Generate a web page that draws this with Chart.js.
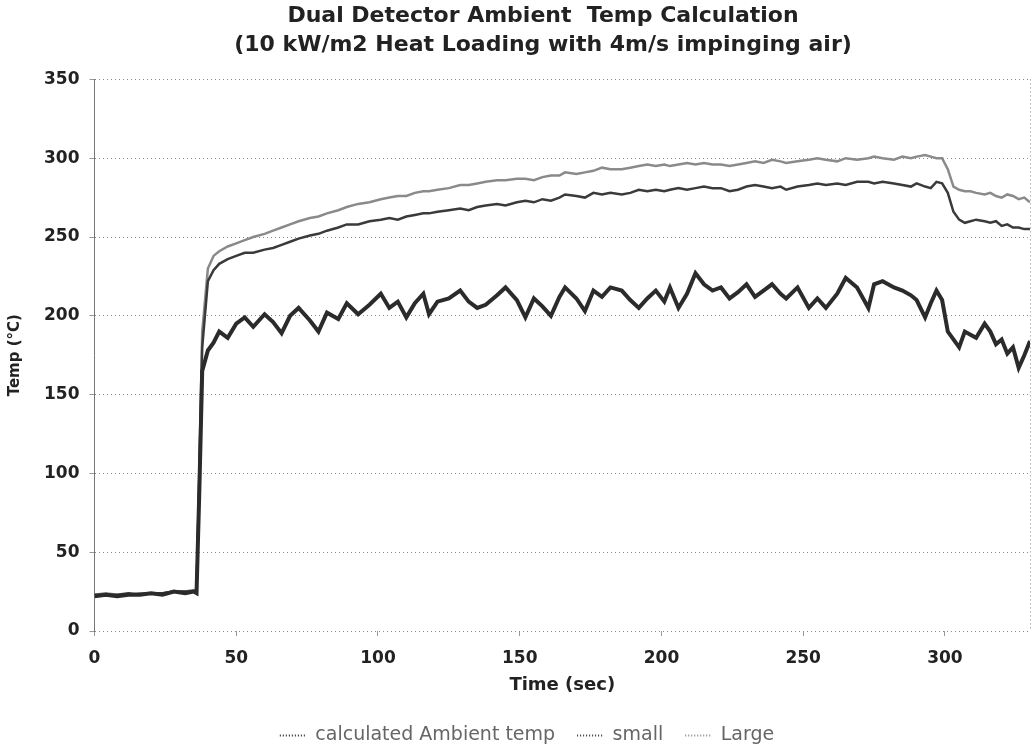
<!DOCTYPE html>
<html>
<head>
<meta charset="utf-8">
<script src="https://cdn.jsdelivr.net/npm/chart.js@4/dist/chart.umd.min.js"></script>
<style>
  html, body { margin: 0; padding: 0; background: #fff; }
  #wrap { width: 1034px; height: 748px; }
</style>
</head>
<body>
<div id="wrap"><canvas id="tempChart"></canvas></div>
<script>
// time in seconds
const times = [0, 4, 8, 12, 16, 20, 24, 28, 32, 35, 36, 37, 38, 40, 42, 44, 47, 50, 53, 56,
  60, 63, 66, 69, 72, 76, 79, 82, 86, 89, 93, 97, 101, 104, 107, 110, 113, 116, 118, 121,
  125, 129, 132, 135, 138, 142, 145, 149, 152, 155, 158, 161, 164, 166, 170, 173, 176, 179, 182, 186,
  189, 192, 195, 198, 201, 203, 206, 209, 212, 215, 218, 221, 224, 227, 230, 233, 236, 239, 242, 244,
  248, 252, 255, 258, 262, 265, 269, 273, 275, 278, 282, 285, 288, 290, 293, 295, 297, 299, 301, 303,
  305, 307, 309, 311, 314, 316, 318, 320, 322, 324, 326, 328, 330];

const calcAmbient = [22, 23, 22, 23, 23, 24, 23, 25, 24, 25, 24, 90, 165, 178, 183, 190, 186, 195, 199, 193,
  201, 196, 189, 200, 205, 197, 190, 202, 198, 208, 201, 207, 214, 205, 209, 199, 208, 214, 201, 209,
  211, 216, 209, 205, 207, 213, 218, 210, 199, 211, 206, 200, 212, 218, 211, 203, 216, 212, 218, 216,
  210, 205, 211, 216, 209, 218, 205, 214, 227, 220, 216, 218, 211, 215, 220, 212, 216, 220, 214, 211,
  218, 205, 211, 205, 214, 224, 218, 205, 220, 222, 218, 216, 213, 210, 199, 208, 216, 210, 190, 185,
  180, 190, 188, 186, 195, 190, 182, 185, 176, 180, 167, 175, 184];

const small = [23, 23, 23, 24, 23, 24, 24, 25, 25, 25, 25, 100, 180, 222, 229, 233, 236, 238, 240, 240,
  242, 243, 245, 247, 249, 251, 252, 254, 256, 258, 258, 260, 261, 262, 261, 263, 264, 265, 265, 266,
  267, 268, 267, 269, 270, 271, 270, 272, 273, 272, 274, 273, 275, 277, 276, 275, 278, 277, 278, 277,
  278, 280, 279, 280, 279, 280, 281, 280, 281, 282, 281, 281, 279, 280, 282, 283, 282, 281, 282, 280,
  282, 283, 284, 283, 284, 283, 285, 285, 284, 285, 284, 283, 282, 284, 282, 281, 285, 284, 278, 266,
  261, 259, 260, 261, 260, 259, 260, 257, 258, 256, 256, 255, 255];

const large = [23, 24, 23, 23, 24, 24, 24, 25, 25, 26, 25, 105, 190, 230, 238, 241, 244, 246, 248, 250,
  252, 254, 256, 258, 260, 262, 263, 265, 267, 269, 271, 272, 274, 275, 276, 276, 278, 279, 279, 280,
  281, 283, 283, 284, 285, 286, 286, 287, 287, 286, 288, 289, 289, 291, 290, 291, 292, 294, 293, 293,
  294, 295, 296, 295, 296, 295, 296, 297, 296, 297, 296, 296, 295, 296, 297, 298, 297, 299, 298, 297,
  298, 299, 300, 299, 298, 300, 299, 300, 301, 300, 299, 301, 300, 301, 302, 301, 300, 300, 293, 282,
  280, 279, 279, 278, 277, 278, 276, 275, 277, 276, 274, 275, 272];

const xTicks = [0, 50, 100, 150, 200, 250, 300];

function pts(vals) {
  return times.map((t, i) => ({ x: t, y: vals[i] }));
}

const font = 'DejaVu Sans, Arial, sans-serif';

// title and legend sit a bit right of the canvas centre in the original
const nudge = {
  id: 'nudge',
  afterLayout(chart) {
    chart.titleBlock.left += 26;
    chart.titleBlock.right += 26;
    chart.legend.left += 10;
    chart.legend.right += 10;
  },
};

const ctx = document.getElementById('tempChart').getContext('2d');
new Chart(ctx, {
  type: 'line',
  data: {
    datasets: [
      { label: 'calculated Ambient temp', data: pts(calcAmbient), borderColor: '#2b2b2b', borderWidth: 4 },
      { label: 'small', data: pts(small), borderColor: '#3a3a3a', borderWidth: 2.5 },
      { label: 'Large', data: pts(large), borderColor: '#8a8a8a', borderWidth: 2.5 },
    ],
  },
  options: {
    responsive: true,
    maintainAspectRatio: false,
    animation: false,
    elements: { point: { radius: 0 }, line: { tension: 0 } },
    layout: { padding: { top: 1, right: 4, left: 4, bottom: 0 } },
    plugins: {
      title: {
        display: true,
        text: ['Dual Detector Ambient  Temp Calculation', '(10 kW/m2 Heat Loading with 4m/s impinging air)'],
        color: '#222',
        font: { family: font, size: 22, weight: 'bold', lineHeight: 1.35 },
        padding: { top: 0, bottom: 19 },
      },
      legend: {
        position: 'bottom',
        maxHeight: 44,
        labels: {
          color: '#666',
          font: { family: font, size: 19 },
          usePointStyle: true,
          pointStyle: 'line',
          pointStyleWidth: 26,
          boxHeight: 2,
          padding: 22,
          generateLabels: (chart) => Chart.defaults.plugins.legend.labels.generateLabels(chart).map(l => {
            l.lineWidth = 2;
            l.lineDash = [1, 2];
            return l;
          }),
        },
      },
      tooltip: { enabled: false },
    },
    scales: {
      x: {
        type: 'linear',
        min: 0,
        max: 330,
        afterBuildTicks: (axis) => {
          axis.ticks = xTicks.concat([330]).map(v => ({ value: v }));
        },
        afterFit: (axis) => {
          axis.paddingRight = 0;
        },
        ticks: {
          color: '#222',
          font: { family: font, size: 17, weight: 'bold' },
          maxRotation: 0,
          padding: 12,
          callback: (v) => (v === 330 ? '' : v),
        },
        grid: {
          color: (c) => (c.tick && c.tick.value === 330 ? '#888' : 'rgba(0,0,0,0)'),
          tickColor: (c) => (c.tick && c.tick.value === 330 ? 'rgba(0,0,0,0)' : '#999'),
          tickLength: 5,
        },
        border: { display: false, dash: [1, 3] },
        title: {
          display: true,
          text: 'Time (sec)',
          color: '#222',
          font: { family: font, size: 18, weight: 'bold' },
          padding: { top: -6, bottom: 8 },
        },
      },
      y: {
        min: 0,
        max: 350,
        ticks: {
          stepSize: 50,
          color: '#222',
          font: { family: font, size: 17, weight: 'bold' },
          padding: 10,
        },
        grid: {
          color: '#888',
          tickColor: '#999',
          tickLength: 5,
          lineWidth: 1,
        },
        border: { display: true, color: '#777', dash: [1, 3] },
        title: {
          display: true,
          text: 'Temp (°C)',
          color: '#222',
          font: { family: font, size: 15, weight: 'bold' },
          padding: { top: 2, bottom: 10 },
        },
      },
    },
  },
  plugins: [nudge],
});
</script>
</body>
</html>
